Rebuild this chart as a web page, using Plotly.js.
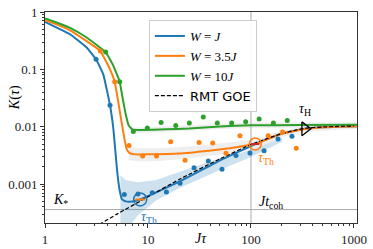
<!DOCTYPE html>
<html>
<head>
<meta charset="utf-8">
<script src="https://cdn.plot.ly/plotly-3.0.1.min.js"></script>
<style>html,body{margin:0;padding:0;background:#fff;}#chart{width:373px;height:249px;}</style>
</head>
<body>
<div id="chart"></div>
<script>
// ---- data ----
const seriesNames = ['<i>W</i> = <i>J</i>', '<i>W</i> = 3.5<i>J</i>', '<i>W</i> = 10<i>J</i>', 'RMT GOE'];

const xBlueLine = [1, 1.2, 1.75, 2.54, 3.13, 3.68, 4.28, 4.62, 5.0, 5.3, 5.6, 6.1, 7.0, 8.4, 12, 20, 30, 50, 100, 200, 334, 500, 1070];
const yBlueLine = [0.67, 0.575, 0.41, 0.24, 0.15, 0.082, 0.0237, 0.0089, 0.0018, 0.00079, 0.00054, 0.0005, 0.0005, 0.00054, 0.00072, 0.0011, 0.0016, 0.0026, 0.0046, 0.0076, 0.0092, 0.0098, 0.0102];

const xOrangeLine = [1, 1.2, 1.75, 2.54, 3.44, 4.28, 4.75, 5.1, 5.5, 5.9, 6.2, 6.6, 7.5, 10, 20, 43, 62, 90, 110, 200, 334, 500, 1070];
const yOrangeLine = [0.72, 0.64, 0.48, 0.31, 0.21, 0.1, 0.061, 0.03, 0.013, 0.0062, 0.0041, 0.0035, 0.0033, 0.0033, 0.0034, 0.0039, 0.0042, 0.0047, 0.0050, 0.0076, 0.0091, 0.0098, 0.0102];

const xGreenLine = [1, 1.2, 1.75, 2.54, 3.88, 4.57, 5.31, 5.7, 6.1, 6.5, 7.1, 8.4, 15, 25, 50, 100, 300, 1070];
const yGreenLine = [0.77, 0.69, 0.53, 0.36, 0.20, 0.12, 0.061, 0.030, 0.016, 0.0105, 0.0089, 0.0088, 0.009, 0.0093, 0.0101, 0.0106, 0.0107, 0.0108];

const xGOE = [3.0, 3.55, 5, 10, 20, 50, 100, 200, 334, 500, 1000];
const yGOE = [1.8e-4, 2.1e-4, 3.0e-4, 6.0e-4, 1.2e-3, 2.75e-3, 4.9e-3, 7.6e-3, 9.4e-3, 9.9e-3, 1.03e-2];

const xBlueDots = [3.13, 4.28, 5.89, 8.0, 11.0, 15.1, 20.5, 28.0, 38.5, 52.3, 71.5, 97.8, 134, 183, 250];
const yBlueDots = [0.150, 0.0237, 6.6e-4, 6.7e-4, 7.1e-4, 7.3e-4, 1.04e-3, 1.93e-3, 2.53e-3, 1.81e-3, 3.16e-3, 3.5e-3, 3.8e-3, 6.1e-3, 6.8e-3];

const xOrangeDots = [3.44, 4.75, 6.54, 8.88, 12.1, 16.6, 22.9, 31.3, 42.5, 57.2, 78.2, 147, 203, 275];
const yOrangeDots = [0.21, 0.061, 4.7e-3, 3.1e-3, 3.1e-3, 5.5e-3, 2.6e-3, 5.3e-3, 5.2e-3, 3.46e-3, 7.0e-3, 7.0e-3, 8.1e-3, 4.2e-3];

const xGreenDots = [3.88, 5.31, 7.2, 9.85, 13.4, 18.6, 25.2, 34.4, 47.1, 64.9, 88.8, 120, 165, 225];
const yGreenDots = [0.20, 0.061, 8.3e-3, 9.5e-3, 0.0119, 0.0105, 0.0116, 0.0148, 0.0116, 0.0116, 0.0122, 0.0136, 0.0116, 0.0129];

const xBlueBand = [5.4, 6, 8, 12, 20, 30, 50, 100, 200];
const yBlueBandHi = [1.44e-3, 1.18e-3, 1.08e-3, 1.18e-3, 1.62e-3, 2.07e-3, 2.86e-3, 3.95e-3, 6.4e-3];
const yBlueBandLo = [1.5e-4, 1.5e-4, 2.86e-4, 5.2e-4, 8.5e-4, 1.18e-3, 1.76e-3, 2.98e-3, 5.5e-3];

const xOrangeBand = [6.5, 8, 12, 20, 40, 70, 110, 200, 334, 600, 1070];
const yOrangeBandHi = [0.0045, 0.0042, 0.0042, 0.0044, 0.0049, 0.0055, 0.0060, 0.0086, 0.0102, 0.0108, 0.0112];
const yOrangeBandLo = [0.0026, 0.0025, 0.0025, 0.0027, 0.0031, 0.0035, 0.0041, 0.0066, 0.0082, 0.0088, 0.0092];

const xGreenBand = [7, 10, 20, 50, 100, 300, 1070];
const yGreenBandHi = [0.0096, 0.0099, 0.0103, 0.0113, 0.0118, 0.0119, 0.012];
const yGreenBandLo = [0.0076, 0.0079, 0.0083, 0.0091, 0.0095, 0.0096, 0.0097];

const tauThBlue = [8.4, 5.4e-4];
const tauThOrange = [110, 5.0e-3];
const tauH = [334, 9.2e-3];
const Kstar = 3.6e-4;
const Jtcoh = 100;

const xTicks = [1, 10, 100, 1000];
const xTickText = ['1', '10', '100', '1000'];
const yTicks = [1, 0.1, 0.01, 0.001];
const yTickText = ['1', '0.1', '0.01', '0.001'];

// ---- build ----
const C = {blue: '#1f77b4', orange: '#ff7f0e', green: '#2ca02c'};
function band(x, hi, lo, color) {
  return {x: x.concat(x.slice().reverse()), y: hi.concat(lo.slice().reverse()),
    type: 'scatter', mode: 'lines', fill: 'toself', fillcolor: color,
    line: {width: 0}, showlegend: false, hoverinfo: 'skip'};
}
const minorVals = [];
[1, 10, 100].forEach(d => { for (let k = 2; k <= 9; k++) minorVals.push(d * k); });
const minorY = [];
[1e-4, 1e-3, 1e-2, 1e-1].forEach(d => { for (let k = 2; k <= 9; k++) minorY.push(d * k); });

const traces = [
  band(xBlueBand, yBlueBandHi, yBlueBandLo, 'rgba(31,119,180,0.22)'),
  band(xOrangeBand, yOrangeBandHi, yOrangeBandLo, 'rgba(140,140,140,0.15)'),
  band(xGreenBand, yGreenBandHi, yGreenBandLo, 'rgba(140,140,140,0.15)'),
  {x: xBlueLine, y: yBlueLine, type: 'scatter', mode: 'lines', name: seriesNames[0], legendrank: 1,
   line: {color: C.blue, width: 2, shape: 'spline', smoothing: 0.3}},
  {x: xOrangeLine, y: yOrangeLine, type: 'scatter', mode: 'lines', name: seriesNames[1], legendrank: 2,
   line: {color: C.orange, width: 2, shape: 'spline', smoothing: 0.3}},
  {x: xGreenLine, y: yGreenLine, type: 'scatter', mode: 'lines', name: seriesNames[2], legendrank: 3,
   line: {color: C.green, width: 2, shape: 'spline', smoothing: 0.3}},
  {x: xGOE, y: yGOE, type: 'scatter', mode: 'lines', name: "<span style=\"font-family:'DejaVu Sans'\">" + seriesNames[3] + '</span>', legendrank: 4,
   line: {color: '#000', width: 1.2, dash: '4px,2px', shape: 'spline', smoothing: 0.5}},
  {x: xBlueDots, y: yBlueDots, type: 'scatter', mode: 'markers', showlegend: false, marker: {color: C.blue, size: 5}},
  {x: xOrangeDots, y: yOrangeDots, type: 'scatter', mode: 'markers', showlegend: false, marker: {color: C.orange, size: 5}},
  {x: xGreenDots, y: yGreenDots, type: 'scatter', mode: 'markers', showlegend: false, marker: {color: C.green, size: 5}},
  {x: [tauThBlue[0]], y: [tauThBlue[1]], type: 'scatter', mode: 'markers', showlegend: false,
   marker: {symbol: 'circle-open', size: 13, color: C.blue, line: {width: 1.5, color: C.blue}}},
  {x: [tauThBlue[0]], y: [tauThBlue[1]], type: 'scatter', mode: 'markers', showlegend: false,
   marker: {symbol: 'line-ew-open', size: 7, line: {width: 2, color: C.blue}}},
  {x: [tauThOrange[0]], y: [tauThOrange[1]], type: 'scatter', mode: 'markers', showlegend: false,
   marker: {symbol: 'circle-open', size: 12, color: C.orange, line: {width: 1.5, color: C.orange}}},
  {x: [tauThOrange[0]], y: [tauThOrange[1]], type: 'scatter', mode: 'markers', showlegend: false,
   marker: {symbol: 'line-ew-open', size: 6, line: {width: 2, color: C.orange}}},
  {x: [tauH[0]], y: [tauH[1]], type: 'scatter', mode: 'markers', showlegend: false,
   marker: {symbol: 'triangle-right-open', size: 12, color: '#000', line: {width: 1.3, color: '#000'}}}
];

const serif = 'Liberation Serif, DejaVu Serif, serif';
const L = Math.log10;
const layout = {
  width: 373, height: 249,
  margin: {l: 45, r: 16, t: 12, b: 26},
  paper_bgcolor: '#fff', plot_bgcolor: '#fff',
  showlegend: true,
  legend: {x: 0.333, y: 0.962, xanchor: 'left', yanchor: 'top', bgcolor: 'rgba(255,255,255,0.9)',
    bordercolor: '#cccccc', borderwidth: 1, font: {family: serif, size: 13, color: '#000'},
    tracegroupgap: 0, itemwidth: 30},
  xaxis: {type: 'log', range: [0, L(1070)], tickvals: xTicks, ticktext: xTickText,
    ticks: 'outside', ticklen: 4, tickcolor: '#333', showline: true, mirror: true, linecolor: '#333', linewidth: 1,
    showgrid: false, zeroline: false, tickfont: {family: serif, size: 13, color: '#222'},
    minor: {tickvals: minorVals, ticks: 'outside', ticklen: 2, tickcolor: '#333', showgrid: false}},
  yaxis: {type: 'log', range: [L(2.1e-4), 0], tickvals: yTicks, ticktext: yTickText,
    ticks: 'outside', ticklen: 4, tickcolor: '#333', showline: true, mirror: true, linecolor: '#333', linewidth: 1,
    showgrid: false, zeroline: false, tickfont: {family: serif, size: 13, color: '#222'},
    minor: {tickvals: minorY, ticks: 'outside', ticklen: 2, tickcolor: '#333', showgrid: false}},
  shapes: [
    {type: 'line', xref: 'x', yref: 'paper', x0: Jtcoh, x1: Jtcoh, y0: 0, y1: 1, line: {color: '#aaaaaa', width: 1}, layer: 'below'},
    {type: 'line', xref: 'paper', yref: 'y', x0: 0, x1: 1, y0: Kstar, y1: Kstar, line: {color: '#aaaaaa', width: 1}, layer: 'below'}
  ],
  annotations: [
    {xref: 'x', yref: 'y', x: 1.01, y: -3.58, text: '<i>τ</i><sub>Th</sub>', showarrow: false, font: {family: serif, size: 14, color: C.blue}},
    {xref: 'x', yref: 'y', x: 2.146, y: -2.56, text: '<i>τ</i><sub>Th</sub>', showarrow: false, font: {family: serif, size: 14, color: C.orange}},
    {xref: 'x', yref: 'y', x: 2.524, y: -1.70, text: '<i>τ</i><sub>H</sub>', showarrow: false, font: {family: serif, size: 14, color: '#000'}},
    {xref: 'x', yref: 'y', x: 0.146, y: -3.28, text: '<i>K</i><sub>*</sub>', showarrow: false, font: {family: serif, size: 14, color: '#000'}},
    {xref: 'x', yref: 'y', x: 2.194, y: -3.32, text: '<i>Jt</i><sub>coh</sub>', showarrow: false, font: {family: serif, size: 14, color: '#000'}},
    {xref: 'x', yref: 'paper', x: 1.51, y: -0.074, xanchor: 'center', yanchor: 'middle', text: '<i>Jτ</i>', showarrow: false, font: {family: serif, size: 14, color: '#000'}},
    {xref: 'paper', yref: 'paper', x: -0.096, y: 0.592, xanchor: 'center', yanchor: 'middle', text: '<i>K</i>(<i>τ</i>)', textangle: -90, showarrow: false, font: {family: serif, size: 14, color: '#000'}}
  ]
};

Plotly.newPlot('chart', traces, layout, {staticPlot: true, displayModeBar: false});
</script>
</body>
</html>
